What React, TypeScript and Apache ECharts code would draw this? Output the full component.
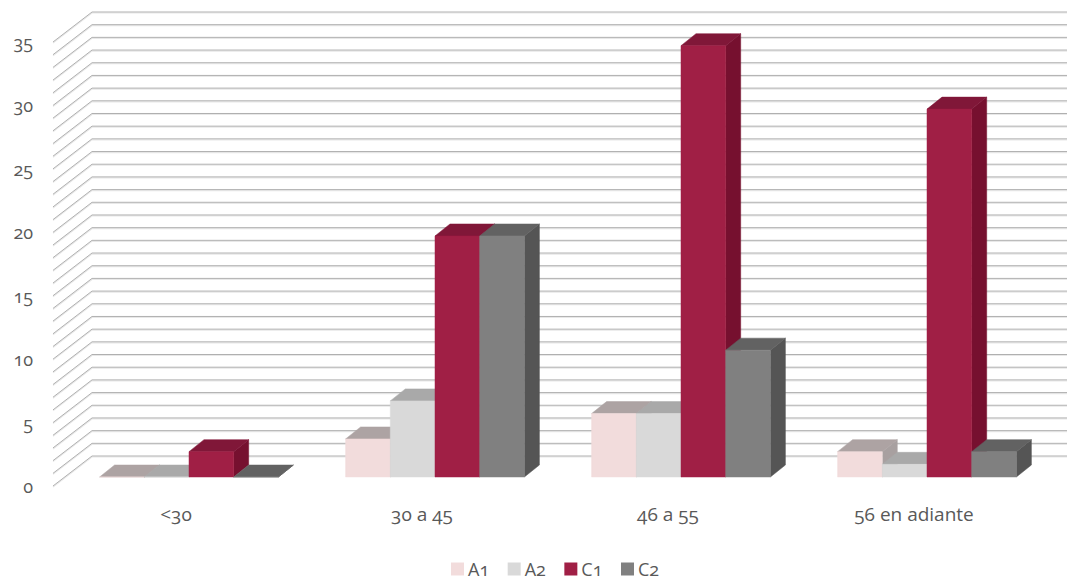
import React, { useEffect, useRef } from "react";
import * as echarts from "echarts";

const categories = ["<30", "30 a 45", "46 a 55", "56 en adiante"];
const seriesNames = ["A1", "A2", "C1", "C2"];
const a1Values = [0, 3, 5, 2];
const a2Values = [0, 6, 5, 1];
const c1Values = [2, 19, 34, 29];
const c2Values = [0, 19, 10, 2];
const gridValues = Array.from({ length: 36 }, (_, i) => i);

const FONT = '"Open Sans", "Noto Sans", sans-serif';
const TEXT = "#595959";
const WALL_DX = 39;
const WALL_DY = -30;
const BAR_DX = 15;
const BAR_DY = -12;
const PLACE_DX = 13;
const PLACE_DY = -9;

const palette = [
  { front: "#f2dcdc", top: "#ada3a3", side: "#a8a0a0" },
  { front: "#d9d9d9", top: "#a9a9a9", side: "#9c9c9c" },
  { front: "#a01f45", top: "#801738", side: "#76102f" },
  { front: "#808080", top: "#626262", side: "#555555" },
];

function wallItem(params: any, api: any) {
  const v = api.value(0);
  const sys = params.coordSys;
  const y = api.coord([0, v])[1];
  const x0 = sys.x;
  const x1 = x0 + WALL_DX;
  const y1 = y + WALL_DY;
  const xEnd = sys.x + sys.width + WALL_DX;
  return {
    type: "group",
    children: [
      {
        type: "polyline",
        shape: { points: [[x0, y + 1], [x1, y1 + 1], [xEnd, y1 + 1]] },
        style: { fill: "none", stroke: "#e8e8e8", lineWidth: 1.2 },
      },
      {
        type: "polyline",
        shape: { points: [[x0, y], [x1, y1], [xEnd, y1]] },
        style: { fill: "none", stroke: "#b0b0b0", lineWidth: 1 },
      },
    ],
  };
}

function barRenderer(index: number) {
  const colours = palette[index];
  return (_params: any, api: any) => {
    const cat = api.value(0);
    const val = api.value(1);
    const band = api.size([1, 0])[0];
    const w = band * 0.1817;
    const center = api.coord([cat, 0])[0] + PLACE_DX;
    const left = center - 2 * w + index * w;
    const right = left + w;
    const base = api.coord([cat, 0])[1] + PLACE_DY;
    const top = api.coord([cat, val])[1] + PLACE_DY;
    const poly = (points: number[][], fill: string) => ({
      type: "polygon",
      shape: { points },
      style: { fill, stroke: fill, lineWidth: 0.5 },
    });
    return {
      type: "group",
      children: [
        poly(
          [[right, base], [right + BAR_DX, base + BAR_DY], [right + BAR_DX, top + BAR_DY], [right, top]],
          colours.side,
        ),
        poly(
          [[left, top], [left + BAR_DX, top + BAR_DY], [right + BAR_DX, top + BAR_DY], [right, top]],
          colours.top,
        ),
        poly([[left, top], [right, top], [right, base], [left, base]], colours.front),
      ],
    };
  };
}

export default function App() {
  const ref = useRef<HTMLDivElement>(null);

  useEffect(() => {
    const chart = echarts.init(ref.current!, undefined, { renderer: "svg" });
    const valueSets = [a1Values, a2Values, c1Values, c2Values];
    chart.setOption({
      animation: false,
      backgroundColor: "#ffffff",
      grid: { left: 53, right: 30, top: 42, bottom: 94, containLabel: false },
      legend: {
        data: seriesNames,
        left: 451,
        top: 560,
        padding: 0,
        itemWidth: 13,
        itemHeight: 13,
        itemGap: 18,
        icon: "rect",
        textStyle: { color: TEXT, fontFamily: FONT, fontSize: 18, padding: [0, 0, 0, -1] },
      },
      xAxis: {
        type: "category",
        data: categories,
        axisLine: { show: false },
        axisTick: { show: false },
        splitLine: { show: false },
        axisLabel: { color: TEXT, fontFamily: FONT, fontSize: 19, margin: 18 },
      },
      yAxis: {
        type: "value",
        min: 0,
        max: 35,
        interval: 5,
        axisLine: { show: false },
        axisTick: { show: false },
        splitLine: { show: false },
        axisLabel: { color: TEXT, fontFamily: FONT, fontSize: 18, margin: 20 },
      },
      series: [
        {
          type: "custom",
          name: "grid",
          silent: true,
          clip: false,
          renderItem: wallItem,
          encode: { y: 0 },
          data: gridValues.map((v) => [v]),
          z: 1,
        },
        ...seriesNames.map((name, i) => ({
          type: "custom",
          name,
          clip: false,
          renderItem: barRenderer(i),
          encode: { x: 0, y: 1 },
          itemStyle: { color: palette[i].front },
          data: valueSets[i].map((v, c) => [c, v]),
          z: 2 + i,
        })),
      ],
    });
    return () => chart.dispose();
  }, []);

  return (
    <div
      ref={ref}
      style={{
        position: "absolute",
        left: 0,
        top: 0,
        width: 1067,
        height: 580,
        fontVariantNumeric: "oldstyle-nums",
        fontFeatureSettings: '"onum" 1',
      }}
    />
  );
}
